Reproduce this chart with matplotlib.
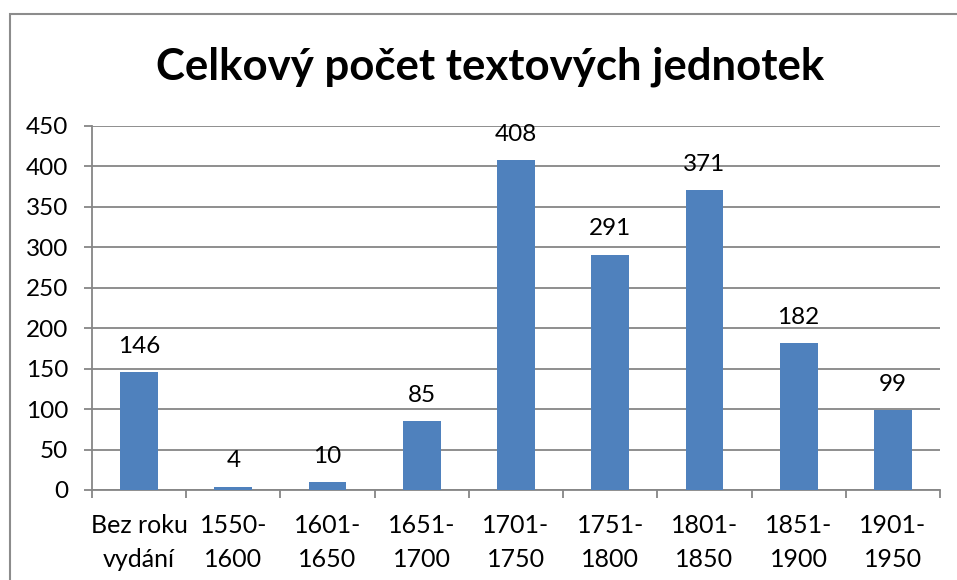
import matplotlib
matplotlib.use("Agg")
import matplotlib.pyplot as plt
from matplotlib.patches import Rectangle

categories = ["Bez roku\nvydání", "1550-\n1600", "1601-\n1650", "1651-\n1700",
              "1701-\n1750", "1751-\n1800", "1801-\n1850", "1851-\n1900",
              "1901-\n1950"]
counts = [146, 4, 10, 85, 408, 291, 371, 182, 99]
y_ticks = [0, 50, 100, 150, 200, 250, 300, 350, 400, 450]

BAR = "#4F81BD"
GRID = "#868686"

plt.rcParams["font.family"] = ["Lato", "DejaVu Sans"]

fig = plt.figure(figsize=(9.57, 5.8), dpi=100)
ax = fig.add_axes([92 / 957, 1 - 490 / 580, (940 - 92) / 957, (490 - 126) / 580])

x = list(range(len(categories)))
bars = ax.bar(x, counts, width=0.4, color=BAR, zorder=3)
ax.bar_label(bars, labels=[str(c) for c in counts], padding=11, fontsize=17.5)

ax.set_xlim(-0.5, len(categories) - 0.5)
ax.set_ylim(0, 450)
ax.set_yticks(y_ticks)
ax.set_xticks(x)
ax.set_xticklabels(categories, linespacing=1.6)
ax.set_xticks([i - 0.5 for i in range(len(categories) + 1)], minor=True)

ax.grid(axis="y", color=GRID, lw=1.3, zorder=0)
for side in ("top", "right"):
    ax.spines[side].set_visible(False)
for side in ("left", "bottom"):
    ax.spines[side].set_color(GRID)
    ax.spines[side].set_linewidth(1.3)

ax.tick_params(axis="y", length=6, width=1.3, color=GRID, labelsize=17.5, pad=11)
ax.tick_params(axis="x", which="major", length=0, labelsize=18, pad=17)
ax.tick_params(axis="x", which="minor", length=6, width=1.3, color=GRID)

fig.text(490 / 957, 1 - 67 / 580, "Celkový počet textových jednotek",
         ha="center", va="center", fontsize=31.5, fontweight="bold")

# chart-area frame (only top/left edges fall inside the image)
fig.patches.append(Rectangle((10 / 957, -0.2), 1.2, 1.2 - 14 / 580,
                             transform=fig.transFigure, fill=False,
                             edgecolor="#8C8C8C", lw=1.5))

fig.savefig("out.png", dpi=100)
